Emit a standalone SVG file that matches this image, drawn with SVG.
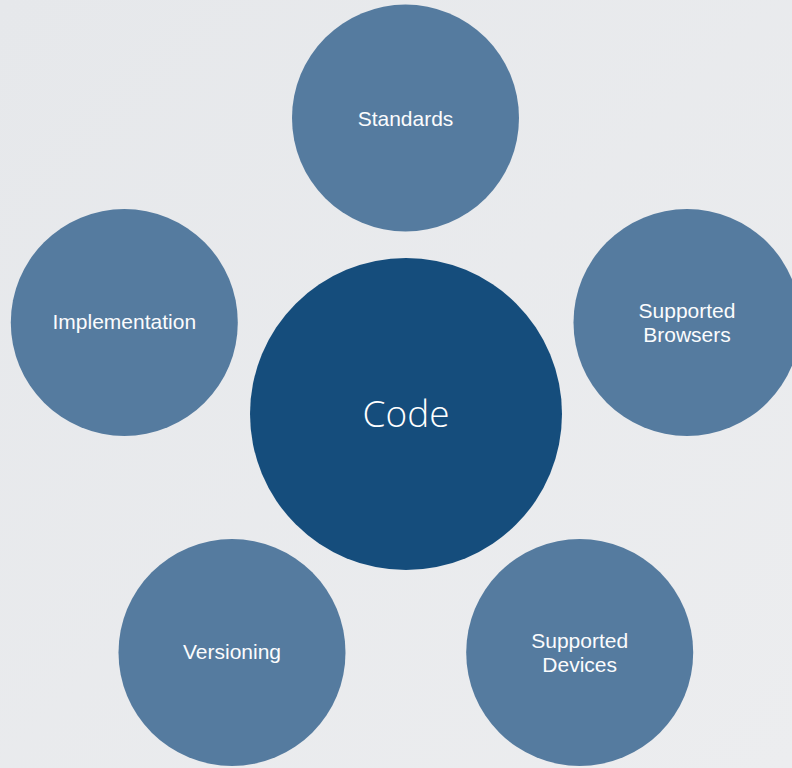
<svg xmlns="http://www.w3.org/2000/svg" width="792" height="768" viewBox="0 0 792 768">
  <defs>
    <linearGradient id="bg" x1="0" y1="0" x2="1" y2="1">
      <stop offset="0" stop-color="#e6e8eb"/>
      <stop offset="1" stop-color="#ecedef"/>
    </linearGradient>
  </defs>
  <style>
    .outer { fill: #557b9f; }
    .center { fill: #154d7c; }
    .lbl { font-family: "Liberation Sans", Arial, Helvetica, sans-serif; font-size: 21px; fill: #fbfcfd; text-anchor: middle; }
    .big { font-family: "Open Sans", "Liberation Sans", Arial, sans-serif; font-weight: 300; font-size: 37px; fill: #ffffff; text-anchor: middle; }
  </style>
  <rect x="0" y="0" width="792" height="768" fill="url(#bg)"/>
  <g id="connectors"/>
  <g id="node-standards">
    <circle class="outer" cx="405.5" cy="118" r="113.5"/>
    <text class="lbl" x="405.5" y="125.5">Standards</text>
  </g>
  <g id="node-browsers">
    <circle class="outer" cx="687" cy="322.5" r="113.5"/>
    <text class="lbl" x="687" y="318.3">Supported</text>
    <text class="lbl" x="687" y="342.3">Browsers</text>
  </g>
  <g id="node-implementation">
    <circle class="outer" cx="124.3" cy="322.5" r="113.5"/>
    <text class="lbl" x="124.3" y="329">Implementation</text>
  </g>
  <g id="node-versioning">
    <circle class="outer" cx="232" cy="652.5" r="113.5"/>
    <text class="lbl" x="232" y="659.3">Versioning</text>
  </g>
  <g id="node-devices">
    <circle class="outer" cx="579.7" cy="652.5" r="113.5"/>
    <text class="lbl" x="579.7" y="648.3">Supported</text>
    <text class="lbl" x="579.7" y="672.3">Devices</text>
  </g>
  <g id="node-code">
    <circle class="center" cx="406" cy="414" r="156"/>
    <text class="big" x="406" y="427.3">Code</text>
  </g>
</svg>
